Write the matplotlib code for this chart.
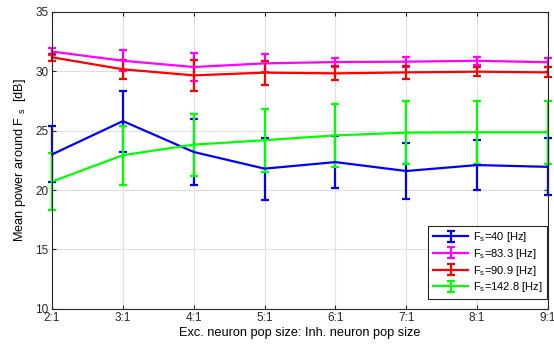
import numpy as np
import matplotlib
matplotlib.use("Agg")
import matplotlib.pyplot as plt

plt.rcParams["font.family"] = ["Liberation Sans", "DejaVu Sans"]
plt.rcParams["mathtext.default"] = "regular"

# ratios of excitatory to inhibitory population size
ratio_labels = ["2:1", "3:1", "4:1", "5:1", "6:1", "7:1", "8:1", "9:1"]

# mean power (dB) and error half-widths, one pair per stimulus frequency
power_40 = [23.0, 25.8, 23.2, 21.8, 22.35, 21.6, 22.1, 21.95]
err_40 = [2.35, 2.56, 2.8, 2.6, 2.2, 2.37, 2.1, 2.4]

power_83 = [31.65, 30.88, 30.35, 30.66, 30.77, 30.8, 30.88, 30.75]
err_83 = [0.3, 0.87, 1.15, 0.76, 0.38, 0.42, 0.35, 0.38]

power_91 = [31.17, 30.16, 29.65, 29.88, 29.82, 29.9, 29.96, 29.9]
err_91 = [0.3, 0.8, 1.3, 1.0, 0.6, 0.55, 0.4, 0.42]

power_143 = [20.71, 22.93, 23.82, 24.19, 24.6, 24.83, 24.86, 24.86]
err_143 = [2.38, 2.5, 2.6, 2.65, 2.63, 2.67, 2.67, 2.65]

series = [
    (power_40, err_40, "#0000ff", "F$_{s}$=40 [Hz]"),
    (power_83, err_83, "#ff00ff", "F$_{s}$=83.3 [Hz]"),
    (power_91, err_91, "#ff0000", "F$_{s}$=90.9 [Hz]"),
    (power_143, err_143, "#00ff00", "F$_{s}$=142.8 [Hz]"),
]

x = np.arange(len(ratio_labels))

fig = plt.figure(figsize=(5.54, 3.47), dpi=100)
ax = fig.add_axes([0.094, 0.11, 0.895, 0.856])

for vals, errs, col, lab in series:
    ax.errorbar(x, vals, yerr=errs, color=col, lw=1.6, elinewidth=1.6,
                capsize=2.6, capthick=1.6, label=lab, clip_on=False)

ax.set_xlim(0, len(ratio_labels) - 1)
ax.set_ylim(10, 35)
ax.set_xticks(x)
ax.set_xticklabels(ratio_labels)
ax.set_yticks(np.arange(10, 36, 5))
ax.grid(True, color="#e0e0e0", lw=0.8)
ax.set_axisbelow(True)
ax.tick_params(direction="in", top=True, right=True, length=3,
               labelsize=8.5, colors="#262626", pad=2.5)
for sp in ax.spines.values():
    sp.set_color("#262626")
    sp.set_linewidth(0.8)

ax.set_xlabel("Exc. neuron pop size: Inh. neuron pop size", fontsize=9.2,
              labelpad=2)
ax.set_ylabel("Mean power around F $_{s}$  [dB]", fontsize=9.2, labelpad=5)

leg = ax.legend(loc="lower right", bbox_to_anchor=(0.998, 0.034),
                borderaxespad=0, fontsize=8, fancybox=False,
                framealpha=1, edgecolor="#262626",
                handlelength=3.2, handletextpad=0.4, labelspacing=0.25,
                borderpad=0.4)
leg.get_frame().set_linewidth(0.8)

fig.savefig("out.png", dpi=100)
